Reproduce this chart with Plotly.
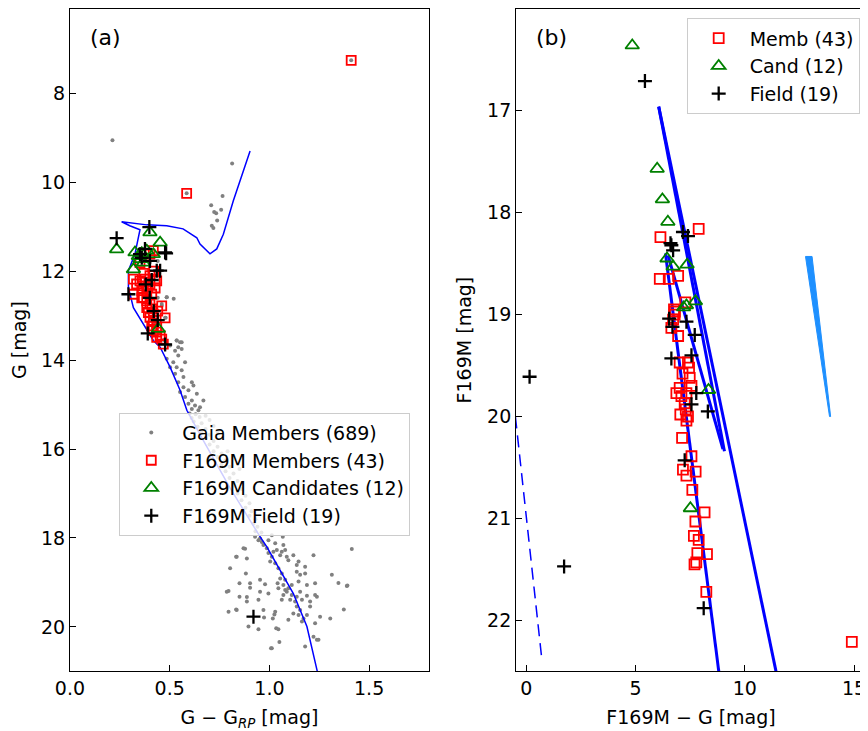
import plotly.graph_objects as go
from plotly.subplots import make_subplots

# ---------------- panel (a): G vs G - G_RP ----------------
gaia_x = [
    0.213, 0.813, 0.765, 0.708, 0.723, 0.733, 0.758, 0.738, 0.711, 0.719, 1.410, 0.585,
    0.40, 0.44, 0.46, 0.48, 0.485, 0.42, 0.44, 0.40, 0.38, 0.42, 0.45, 0.47, 0.535, 0.552,
    0.543, 0.560, 0.52,
    0.485, 0.460, 0.477, 0.535, 0.560, 0.502, 0.527, 0.543, 0.485, 0.518, 0.577, 0.535,
    0.502, 0.560, 0.527, 0.569, 0.543, 0.611, 0.619, 0.569, 0.594, 0.552, 0.636, 0.577,
    0.611, 0.669, 0.594, 0.627, 0.652, 0.611, 0.644,
    0.60, 0.63, 0.61, 0.65, 0.68, 0.62, 0.66, 0.70, 0.64, 0.68, 0.72, 0.66, 0.70, 0.74,
    0.68, 0.72, 0.70, 0.74, 0.72, 0.76, 0.74, 0.78, 0.76, 0.80, 0.78, 0.82, 0.80, 0.84,
    0.82, 0.86, 0.84, 0.88, 0.86, 0.90, 0.88, 0.91, 0.90, 0.93, 0.92, 0.94, 0.93, 0.96,
    0.79, 0.85, 0.70, 0.98,
    0.928, 0.945, 0.962, 0.953, 0.970, 0.987, 0.995, 1.012, 1.004, 1.029, 1.045, 1.062,
    1.054, 1.079, 1.070, 1.095, 1.087, 1.112, 1.104, 1.129, 1.137, 1.154, 1.146, 1.171,
    1.163,
    1.413, 1.221, 1.313, 1.346, 1.388, 1.373, 1.305, 1.254, 1.229, 1.246, 1.221, 1.179,
    1.050, 1.008, 1.045, 1.034, 1.017, 1.029, 1.095, 1.120, 1.188, 1.204, 1.238, 1.229,
    1.204, 1.188, 1.163, 1.137, 1.062, 1.070, 1.079, 1.112, 1.146, 1.154, 1.137, 1.179,
    1.137, 1.146, 1.095, 1.087, 1.120, 1.062, 1.079, 1.037, 1.054, 1.020, 1.067, 1.012,
    0.995, 1.029, 1.041, 1.045, 0.978, 0.953, 0.903, 0.903, 0.850, 0.795, 0.850, 0.887,
    0.887, 0.945, 0.953, 0.995, 0.795, 0.833, 0.970, 0.973, 0.895, 0.945, 0.882, 0.803,
    0.833, 0.887, 0.870, 1.070, 1.179, 1.154, 1.188, 1.229, 1.025, 0.836, 0.878, 0.786,
    0.836, 1.012, 1.238, 1.391,
]
gaia_y = [
    9.06, 9.58, 10.31, 10.52, 10.67, 10.70, 10.62, 10.86, 10.98, 11.03, 7.26, 10.25,
    11.81, 11.77, 12.78, 13.05, 12.59, 12.30, 12.60, 12.90, 12.45, 13.20, 13.40, 13.55, 13.56, 13.60,
    13.71, 13.75, 12.62,
    12.59, 12.74, 13.05, 13.56, 13.60, 13.67, 13.79, 13.90, 13.97, 14.05, 14.05, 14.16,
    14.16, 14.23, 14.31, 14.38, 14.50, 14.50, 14.57, 14.61, 14.68, 14.72, 14.76, 14.83,
    14.91, 14.91, 14.98, 15.02, 15.06, 15.10, 15.13,
    15.20, 15.22, 15.30, 15.28, 15.25, 15.38, 15.42, 15.35, 15.50, 15.55, 15.48, 15.62, 15.68, 15.60,
    15.75, 15.82, 15.90, 15.95, 16.05, 16.10, 16.18, 16.25, 16.35, 16.40, 16.50, 16.55, 16.65, 16.72,
    16.82, 16.90, 17.00, 17.05, 17.15, 17.22, 17.32, 17.40, 17.50, 17.58, 17.68, 17.75, 17.85, 17.88,
    16.05, 16.45, 16.20, 17.60,
    17.97, 18.05, 18.09, 18.01, 18.16, 18.23, 18.34, 18.42, 18.53, 18.57, 18.68, 18.80,
    18.91, 18.94, 19.06, 19.13, 19.21, 19.28, 19.39, 19.43, 19.54, 19.62, 19.73, 19.81,
    19.88,
    18.25, 18.39, 18.83, 19.01, 19.08, 19.61, 19.81, 19.77, 19.92, 20.29, 20.22, 20.44,
    20.34, 20.48, 20.05, 20.03, 19.81, 19.66, 19.84, 19.70, 19.73, 19.54, 19.32, 19.28,
    19.43, 19.30, 19.39, 19.32, 19.39, 19.28, 19.17, 19.06, 18.98, 18.83, 18.76, 18.80,
    18.61, 18.53, 18.50, 18.42, 18.39, 18.31, 18.27, 18.27, 18.39, 18.31, 17.97, 17.94,
    18.05, 18.12, 19.02, 19.13, 19.04, 18.94, 19.02, 19.12, 19.02, 19.19, 19.32, 19.33,
    19.43, 19.39, 19.21, 19.25, 19.66, 19.61, 19.62, 19.79, 19.99, 20.05, 18.80, 18.68,
    18.42, 18.46, 18.23, 18.16, 18.65, 19.21, 19.06, 19.02, 19.72, 18.42, 18.24, 19.21,
    19.62, 20.48, 20.29, 19.07,
]

memb_a_x = [
    1.410, 0.585, 0.418, 0.401, 0.427, 0.401, 0.376, 0.351, 0.318, 0.435, 0.334, 0.368,
    0.401, 0.427, 0.360, 0.385, 0.318, 0.410, 0.368, 0.385, 0.401, 0.385, 0.410, 0.460,
    0.393, 0.418, 0.477, 0.401, 0.418, 0.410, 0.435, 0.418, 0.435, 0.452, 0.460, 0.435,
    0.468, 0.351, 0.37, 0.42, 0.44, 0.39, 0.36,
]
memb_a_y = [
    7.26, 10.25, 11.54, 11.62, 12.18, 12.10, 12.18, 12.22, 12.18, 12.22, 12.29, 12.33,
    12.29, 12.38, 12.44, 12.44, 12.52, 12.52, 12.59, 12.67, 12.74, 12.82, 12.85, 12.78,
    12.93, 12.97, 13.05, 13.04, 13.11, 13.23, 13.26, 13.34, 13.37, 13.45, 13.53, 13.49,
    13.64, 11.81, 12.05, 12.00, 12.90, 12.35, 12.60,
]

cand_a_x = [0.234, 0.401, 0.452, 0.326, 0.360, 0.385, 0.418, 0.351, 0.368, 0.318, 0.443, 0.343]
cand_a_y = [11.51, 11.13, 11.36, 11.58, 11.60, 11.54, 11.62, 11.73, 11.81, 11.96, 13.30, 11.66]

field_a_x = [0.234, 0.398, 0.477, 0.401, 0.435, 0.293, 0.351, 0.376, 0.477, 0.482,
             0.452, 0.920, 0.40, 0.42, 0.38, 0.36, 0.44, 0.41, 0.39]
field_a_y = [11.26, 11.01, 11.58, 11.77, 11.99, 12.52, 11.62, 11.50, 13.65, 11.60,
             11.99, 19.77, 12.60, 12.90, 12.30, 11.70, 13.10, 12.20, 13.40]

iso_a_x = [0.903, 0.819, 0.769, 0.736, 0.702, 0.652, 0.636, 0.567, 0.485, 0.385, 0.259,
           0.300, 0.351, 0.326, 0.293, 0.293, 0.318, 0.368, 0.418, 0.452, 0.502, 0.552,
           0.586, 0.669, 0.803, 0.953, 0.987, 1.120, 1.188, 1.238, 1.240]
iso_a_y = [9.30, 10.42, 11.17, 11.50, 11.61, 11.39, 11.25, 11.05, 10.98, 10.96, 10.89,
           10.98, 11.07, 11.61, 11.99, 12.37, 12.82, 13.19, 13.56, 13.71, 14.16, 14.68,
           15.13, 15.81, 16.88, 17.97, 18.20, 19.25, 19.99, 20.96, 21.00]

# ---------------- panel (b): F169M vs F169M - G ----------------
memb_b_x = [7.89, 6.14, 6.11, 6.52, 6.95, 7.28, 6.76, 6.79, 6.72, 6.64, 6.95, 7.02,
            7.40, 7.15, 7.02, 6.87, 7.56, 7.33, 7.25, 7.30, 7.05, 7.33, 7.13, 7.56,
            7.17, 7.33, 7.75, 7.60, 8.16, 7.74, 7.67, 7.89, 7.83, 8.27, 7.78, 8.24,
            14.90, 7.70, 7.48, 7.10, 7.40, 6.80, 7.45]
memb_b_y = [18.16, 18.24, 18.65, 18.65, 18.62, 18.88, 18.95, 19.00, 19.05, 19.13, 19.21, 19.47,
            19.47, 19.58, 19.72, 19.77, 19.70, 19.77, 19.87, 19.93, 19.98, 20.04, 20.21, 20.39,
            20.52, 20.58, 20.54, 20.72, 20.94, 21.03, 21.17, 21.21, 21.34, 21.35, 21.43, 21.72,
            22.21, 21.45, 19.62, 19.80, 20.00, 18.97, 19.52]

cand_b_x = [4.85, 5.99, 6.23, 6.48, 6.44, 6.72, 7.36, 7.33, 7.74, 8.34, 7.51, 7.20]
cand_b_y = [16.36, 17.57, 17.87, 18.09, 18.45, 18.53, 18.51, 18.91, 18.87, 19.74, 20.90, 18.93]

field_b_x = [5.43, 0.15, 1.73, 8.12, 7.17, 6.64, 6.72, 6.54, 7.33, 6.69, 7.71, 6.64,
             7.56, 7.78, 7.56, 8.31, 7.25, 6.60, 7.40]
field_b_y = [16.71, 19.61, 21.47, 21.88, 18.19, 18.32, 18.37, 19.04, 19.07, 19.12, 19.20, 19.43,
             19.40, 19.77, 19.88, 19.95, 20.43, 18.30, 18.23]

# isochrone segments in panel (b)
iso_b1_x = [6.06, 9.07]
iso_b1_y = [16.96, 20.34]
iso_b2_x = [6.06, 11.43]
iso_b2_y = [16.96, 22.50]
iso_b3_x = [6.37, 8.81]
iso_b3_y = [18.40, 22.50]
iso_b4_x = [6.49, 9.00]
iso_b4_y = [18.42, 20.32]
dash_b_x = [-0.50, 0.72]
dash_b_y = [20.00, 22.40]
wedge_b_x = [12.78, 13.08, 13.93, 13.88, 12.78]
wedge_b_y = [18.43, 18.43, 20.00, 20.00, 18.43]

FONT = "DejaVu Sans"

fig = make_subplots(rows=1, cols=2)

# panel (a)
fig.add_trace(go.Scatter(x=gaia_x, y=gaia_y, mode="markers", name="Gaia Members (689)",
                         marker=dict(size=4, color="#808080"), legend="legend", legendgroup="g1"),
              row=1, col=1)
fig.add_trace(go.Scatter(x=iso_a_x, y=iso_a_y, mode="lines", showlegend=False,
                         line=dict(color="blue", width=1.5)), row=1, col=1)
fig.add_trace(go.Scatter(x=memb_a_x, y=memb_a_y, mode="markers", name="F169M Members (43)",
                         marker=dict(symbol="square-open", size=9, color="red", line=dict(width=1.8)),
                         legend="legend", legendgroup="g2"), row=1, col=1)
fig.add_trace(go.Scatter(x=cand_a_x, y=cand_a_y, mode="markers", name="F169M Candidates (12)",
                         marker=dict(symbol="triangle-up-open", size=12, color="green", line=dict(width=1.8)),
                         legend="legend", legendgroup="g3"), row=1, col=1)
fig.add_trace(go.Scatter(x=field_a_x, y=field_a_y, mode="markers", name="F169M Field (19)",
                         marker=dict(symbol="cross-thin", size=10, line=dict(width=2.3, color="black")),
                         legend="legend", legendgroup="g4"), row=1, col=1)

# panel (b)
for lx, ly in [(iso_b1_x, iso_b1_y), (iso_b2_x, iso_b2_y), (iso_b3_x, iso_b3_y), (iso_b4_x, iso_b4_y)]:
    fig.add_trace(go.Scatter(x=lx, y=ly, mode="lines", showlegend=False,
                             line=dict(color="blue", width=3)), row=1, col=2)
fig.add_trace(go.Scatter(x=dash_b_x, y=dash_b_y, mode="lines", showlegend=False,
                         line=dict(color="blue", width=1.5, dash="12px,7px")), row=1, col=2)
fig.add_trace(go.Scatter(x=wedge_b_x, y=wedge_b_y, mode="lines", fill="toself", showlegend=False,
                         fillcolor="#1e90ff", line=dict(color="#1e90ff", width=1)), row=1, col=2)
fig.add_trace(go.Scatter(x=memb_b_x, y=memb_b_y, mode="markers", name="Memb (43)",
                         marker=dict(symbol="square-open", size=10, color="red", line=dict(width=1.8)),
                         legend="legend2", legendgroup="h1"), row=1, col=2)
fig.add_trace(go.Scatter(x=cand_b_x, y=cand_b_y, mode="markers", name="Cand (12)",
                         marker=dict(symbol="triangle-up-open", size=12, color="green", line=dict(width=1.8)),
                         legend="legend2", legendgroup="h2"), row=1, col=2)
fig.add_trace(go.Scatter(x=field_b_x, y=field_b_y, mode="markers", name="Field (19)",
                         marker=dict(symbol="cross-thin", size=10, line=dict(width=2.3, color="black")),
                         legend="legend2", legendgroup="h3"), row=1, col=2)

axis_style = dict(showline=True, mirror=True, linecolor="black", linewidth=1, ticks="inside",
                  ticklen=6, tickwidth=1, tickcolor="black", showgrid=False, zeroline=False,
                  automargin=False, tickfont=dict(family=FONT, size=19, color="black"))

# the page body adds 8px around the figure, so domains are offset by that amount
Y_DOMAIN = [0.0925, 0.999]
fig.update_xaxes(axis_style)
fig.update_yaxes(axis_style)
fig.update_xaxes(domain=[0.0714, 0.4850], range=[0, 1.8], tickvals=[0, 0.5, 1.0, 1.5],
                 ticktext=["0.0", "0.5", "1.0", "1.5"],
                 title=dict(text="G − G<sub><i>RP</i></sub> [mag]", font=dict(family=FONT, size=19), standoff=12),
                 row=1, col=1)
fig.update_yaxes(domain=Y_DOMAIN, range=[21.0, 6.1], tickvals=[8, 10, 12, 14, 16, 18, 20],
                 title=dict(text="G [mag]", font=dict(family=FONT, size=19), standoff=13),
                 row=1, col=1)
fig.update_xaxes(domain=[0.5853, 0.9885], range=[-0.47, 15.55], tickvals=[0, 5, 10, 15],
                 title=dict(text="F169M − G [mag]", font=dict(family=FONT, size=19), standoff=12),
                 row=1, col=2)
fig.update_yaxes(domain=Y_DOMAIN, range=[22.5, 16.0], tickvals=[16, 17, 18, 19, 20, 21, 22],
                 title=dict(text="F169M [mag]", font=dict(family=FONT, size=19), standoff=10),
                 row=1, col=2)

fig.add_annotation(text="(a)", x=0.1118, y=0.960, xref="paper", yref="paper", showarrow=False,
                   xanchor="center", yanchor="middle",
                   font=dict(family=FONT, size=22, color="black"))
fig.add_annotation(text="(b)", x=0.6256, y=0.960, xref="paper", yref="paper", showarrow=False,
                   xanchor="center", yanchor="middle",
                   font=dict(family=FONT, size=22, color="black"))

legend_style = dict(bgcolor="rgba(255,255,255,0.8)", bordercolor="#cccccc", borderwidth=1,
                    font=dict(family=FONT, size=19, color="black"), xanchor="left", yanchor="top",
                    itemwidth=52, tracegroupgap=0, traceorder="grouped")
fig.update_layout(
    width=868, height=731,
    margin=dict(l=0, r=0, t=0, b=0),
    paper_bgcolor="white", plot_bgcolor="white",
    font=dict(family=FONT, size=19, color="black"),
    legend=dict(legend_style, x=0.1282, y=0.4464),
    legend2=dict(legend_style, x=0.7819, y=0.9859),
)

fig.write_html("out.html")
